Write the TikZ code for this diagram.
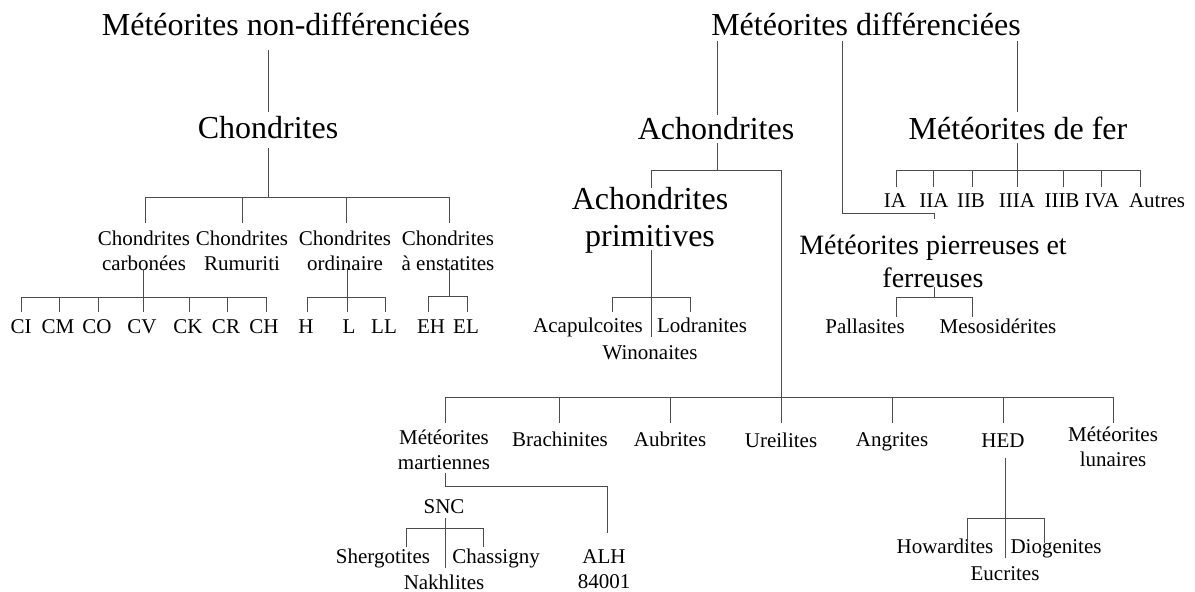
\documentclass[tikz,border=0pt]{standalone}
\usepackage{fontspec}
\setmainfont{Liberation Serif}
\newcommand\twoln[2]{\begin{tabular}[t]{@{}c@{}}#1\\#2\end{tabular}}
\tikzset{
  big/.style={anchor=base, inner sep=0pt, font=\fontsize{32}{37}\selectfont},
  mid/.style={anchor=base, inner sep=0pt, font=\fontsize{28}{33}\selectfont},
  small/.style={anchor=base, inner sep=0pt, font=\fontsize{21}{25}\selectfont},
  ln/.style={draw=black!70, line width=1pt}
}
\begin{document}
\begin{tikzpicture}[x=1pt,y=-1pt]
\useasboundingbox[fill=white] (0,0) rectangle (1195,592);
% ---------- nodes ----------
\node[big] (t1) at (286,35) {Météorites non-différenciées};
\node[big] (t2) at (866,35) {Météorites différenciées};
\node[big] (chond) at (268,138) {Chondrites};
\node[big] (achond) at (716,139) {Achondrites};
\node[big] (fer) at (1018,139) {Météorites de fer};
\node[big] (prim) at (650,209) {\twoln{Achondrites}{primitives}};
\node[mid] (pf) at (933,254) {\twoln{Météorites pierreuses et}{ferreuses}};
\node[small] (cc) at (144,245) {\twoln{Chondrites}{carbonées}};
\node[small] (cr) at (242,245) {\twoln{Chondrites}{Rumuriti}};
\node[small] (co) at (345,245) {\twoln{Chondrites}{ordinaire}};
\node[small] (ce) at (448,245) {\twoln{Chondrites}{à enstatites}};
\node[small] (CI) at (21,333) {CI};
\node[small] (CM) at (58,333) {CM};
\node[small] (CO) at (97,333) {CO};
\node[small] (CV) at (142,333) {CV};
\node[small] (CK) at (188,333) {CK};
\node[small] (CR) at (226,333) {CR};
\node[small] (CH) at (264,333) {CH};
\node[small] (H) at (306,333) {H};
\node[small] (L) at (349,333) {L};
\node[small] (LL) at (384,333) {LL};
\node[small] (EH) at (431,333) {EH};
\node[small] (EL) at (466,333) {EL};
\node[small] (aca) at (588,332) {Acapulcoites};
\node[small] (lod) at (702,332) {Lodranites};
\node[small] (win) at (650,359) {Winonaites};
\node[small] (IA) at (895,207) {IA};
\node[small] (IIA) at (934,207) {IIA};
\node[small] (IIB) at (971,207) {IIB};
\node[small] (IIIA) at (1017,207) {IIIA};
\node[small] (IIIB) at (1062,207) {IIIB};
\node[small] (IVA) at (1102,207) {IVA};
\node[small] (aut) at (1157,207) {Autres};
\node[small] (pal) at (865,333) {Pallasites};
\node[small] (meso) at (998,333) {Mesosidérites};
\node[small] (mart) at (444,444) {\twoln{Météorites}{martiennes}};
\node[small] (brach) at (560,446) {Brachinites};
\node[small] (aub) at (670,446) {Aubrites};
\node[small] (ureil) at (781,447) {Ureilites};
\node[small] (angr) at (892,446) {Angrites};
\node[small] (hed) at (1003,447) {HED};
\node[small] (lun) at (1113,441) {\twoln{Météorites}{lunaires}};
\node[small] (snc) at (444,513) {SNC};
\node[small] (sher) at (383,563) {Shergotites};
\node[small] (chas) at (496,563) {Chassigny};
\node[small] (nakh) at (444,589) {Nakhlites};
\node[small] (alh) at (604,563) {\twoln{ALH}{84001}};
\node[small] (how) at (945,553) {Howardites};
\node[small] (dio) at (1056,553) {Diogenites};
\node[small] (euc) at (1005,580) {Eucrites};
% ---------- coordinates ----------
\coordinate (t1b) at (268,50);   \coordinate (chT) at (268,112);
\coordinate (chB) at (268,148);  \coordinate (chJ) at (268,197);
\coordinate (bA1) at (145,197);  \coordinate (bA2) at (449,197);
\coordinate (dA1) at (145,223);  \coordinate (dA4) at (449,223);
\coordinate (bAr) at (242,197);  \coordinate (dAr) at (242,223);
\coordinate (bAo) at (346,197);  \coordinate (dAo) at (346,223);
\coordinate (ccB) at (143,269);
\coordinate (bC1) at (21,297);   \coordinate (bC7) at (266,297);
\coordinate (coB) at (347,268);  \coordinate (coD) at (347,312);
\coordinate (bO1) at (307,297);  \coordinate (bO3) at (385,297);
\coordinate (ceB) at (449,267);  \coordinate (ceJ) at (449,296);
\coordinate (bE1) at (428,296);  \coordinate (bE2) at (467,296);
\coordinate (t2a) at (717,41);   \coordinate (acT) at (717,115);
\coordinate (t2b) at (842,41);   \coordinate (pfK) at (842,213);
\coordinate (pfK2) at (934,213); \coordinate (pfT) at (934,219);
\coordinate (t2c) at (1017,41);  \coordinate (feT) at (1017,112);
\coordinate (acB) at (717,143);  \coordinate (acJ) at (717,170);
\coordinate (prT) at (651,188);  \coordinate (bP1) at (651,170);
\coordinate (bP2) at (781,170);  \coordinate (urT) at (781,423);
\coordinate (feB) at (1017,143); \coordinate (feD) at (1017,187);
\coordinate (bF1) at (896,170);  \coordinate (bF7) at (1140,170);
\coordinate (pfB) at (934,287);  \coordinate (pfJ) at (934,297);
\coordinate (bS1) at (896,297);  \coordinate (bS2) at (972,297);
\coordinate (prB) at (651,250);  \coordinate (prE) at (651,337);
\coordinate (bW1) at (612,297);  \coordinate (bW2) at (690,297);
\coordinate (bL1) at (445,397);  \coordinate (bL7) at (1113,397);
\coordinate (maB) at (445,473);  \coordinate (maJ) at (445,486);
\coordinate (alJ) at (607,486);  \coordinate (alT) at (607,533);
\coordinate (snB) at (445,518);  \coordinate (snE) at (445,568);
\coordinate (bN1) at (406,528);  \coordinate (bN2) at (483,528);
\coordinate (heB) at (1005,458); \coordinate (heE) at (1005,558);
\coordinate (bH1) at (967,518);  \coordinate (bH2) at (1044,518);
% ---------- connectors ----------
\draw[ln] (t1b) -- (chT);
\draw[ln] (chB) -- (chJ);
\draw[ln] (dA1) -- (bA1) -- (bA2) -- (dA4);
\draw[ln] (bAr) -- (dAr);
\draw[ln] (bAo) -- (dAo);
% carbonées
\draw[ln] (ccB) -- ++(0,43);
\draw[ln] (bC1) -- (bC7);
\foreach \x in {21,59,98,189,227,266} \draw[ln] (\x,297) -- (\x,312);
% ordinaire
\draw[ln] (coB) -- (coD);
\draw[ln] (bO1) -- (bO3);
\foreach \x in {307,385} \draw[ln] (\x,297) -- (\x,312);
% enstatites
\draw[ln] (ceB) -- (ceJ);
\draw[ln] (bE1) -- (bE2);
\foreach \x in {428,467} \draw[ln] (\x,296) -- (\x,312);
% right
\draw[ln] (t2a) -- (acT);
\draw[ln] (t2b) -- (pfK) -- (pfK2) -- (pfT);
\draw[ln] (t2c) -- (feT);
\draw[ln] (acB) -- (acJ);
\draw[ln] (prT) -- (bP1) -- (bP2) -- (urT);
\draw[ln] (feB) -- (feD);
\draw[ln] (bF1) -- (bF7);
\foreach \x in {896,933,972,1063,1101,1140} \draw[ln] (\x,170) -- (\x,187);
\draw[ln] (pfB) -- (pfJ);
\draw[ln] (bS1) -- (bS2);
\foreach \x in {896,972} \draw[ln] (\x,297) -- (\x,317);
\draw[ln] (prB) -- (prE);
\draw[ln] (bW1) -- (bW2);
\foreach \x in {612,690} \draw[ln] (\x,297) -- (\x,312);
\draw[ln] (bL1) -- (bL7);
\foreach \x in {445,559,670,892,1003,1113} \draw[ln] (\x,397) -- (\x,423);
\draw[ln] (maB) -- (maJ) -- (alJ) -- (alT);
\draw[ln] (snB) -- (snE);
\draw[ln] (bN1) -- (bN2);
\foreach \x in {406,483} \draw[ln] (\x,528) -- (\x,547);
\draw[ln] (heB) -- (heE);
\draw[ln] (bH1) -- (bH2);
\foreach \x in {967,1044} \draw[ln] (\x,518) -- (\x,543);
\end{tikzpicture}
\end{document}
